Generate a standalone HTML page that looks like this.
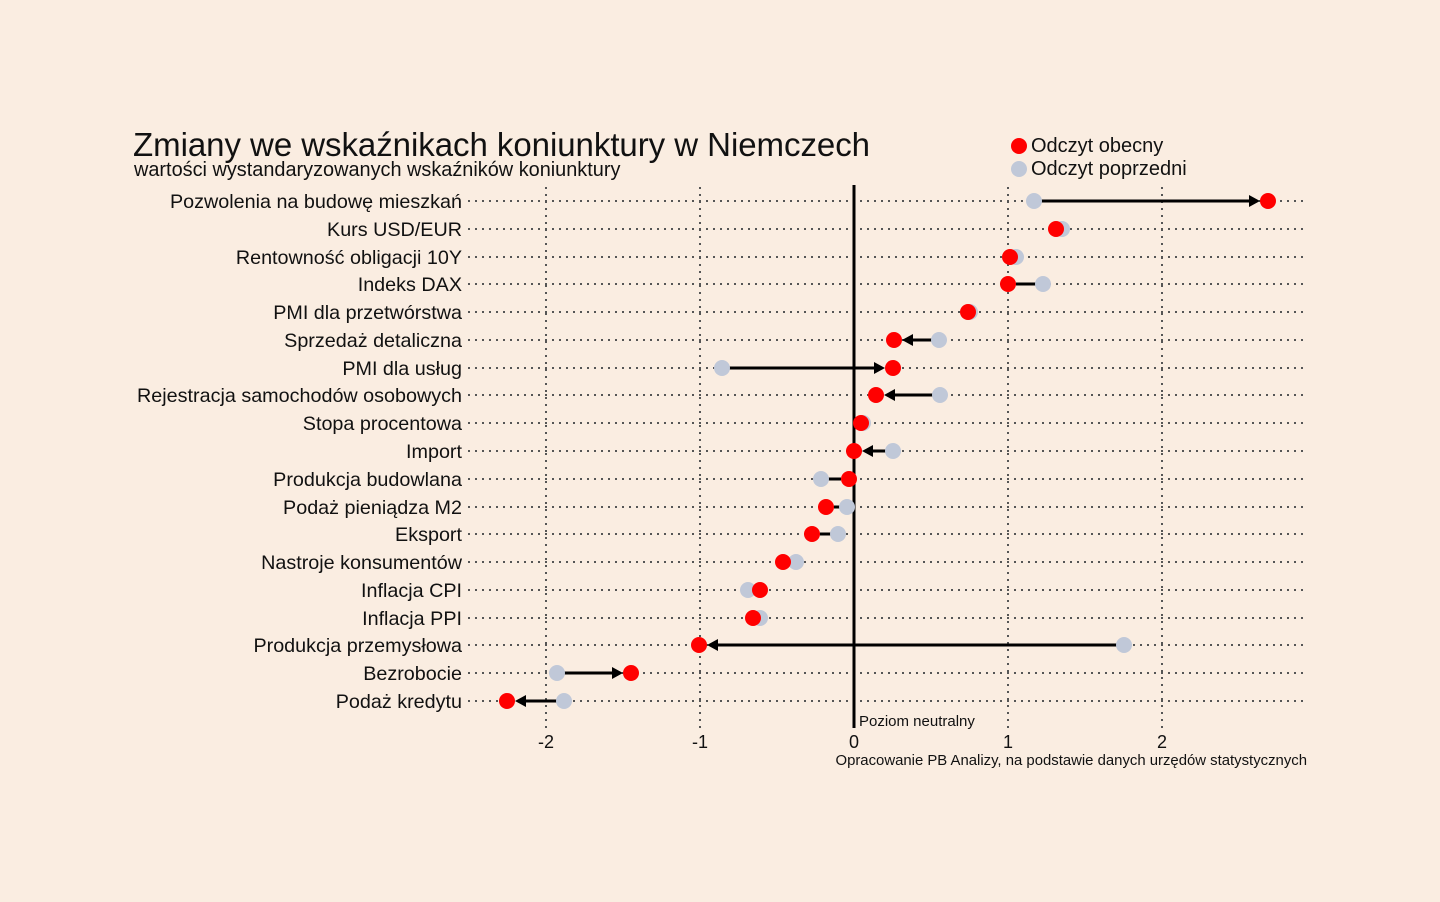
<!DOCTYPE html>
<html><head><meta charset="utf-8"><style>
html,body{margin:0;padding:0;background:#faede1;}
svg{display:block;font-family:"Liberation Sans",sans-serif;}
</style></head><body>
<svg width="1440" height="902" viewBox="0 0 1440 902" xmlns="http://www.w3.org/2000/svg">
<rect width="1440" height="902" fill="#faede1"/>
<text x="133" y="156" font-size="33" fill="#111" textLength="737">Zmiany we wskaźnikach koniunktury w Niemczech</text>
<text x="134" y="176" font-size="19.9" fill="#111">wartości wystandaryzowanych wskaźników koniunktury</text>
<circle cx="1019" cy="146" r="8" fill="#f00"/>
<text x="1031" y="152" font-size="20" fill="#111">Odczyt obecny</text>
<circle cx="1019" cy="169" r="8" fill="#c0c8d8"/>
<text x="1031" y="175" font-size="20" fill="#111">Odczyt poprzedni</text>
<g stroke="#555" stroke-width="2" stroke-dasharray="2,5">
<line x1="546" y1="187" x2="546" y2="728"/>
<line x1="700" y1="187" x2="700" y2="728"/>
<line x1="1008" y1="187" x2="1008" y2="728"/>
<line x1="1162" y1="187" x2="1162" y2="728"/>
</g>
<g stroke="#555" stroke-width="2" stroke-dasharray="2,5" id="h"></g>
<line x1="854" y1="185" x2="854" y2="728" stroke="#000" stroke-width="3"/>
<text x="859" y="726" font-size="15" fill="#111">Poziom neutralny</text>
<g font-size="18" fill="#111" text-anchor="middle">
<text x="546" y="748">-2</text><text x="700" y="748">-1</text><text x="854" y="748">0</text><text x="1008" y="748">1</text><text x="1162" y="748">2</text>
</g>
<text x="1307" y="765" font-size="14.9" fill="#111" text-anchor="end">Opracowanie PB Analizy, na podstawie danych urzędów statystycznych</text>
<g id="rows" font-size="19.75" fill="#111"></g>
<script>
var rows=[
["Pozwolenia na budowę mieszkań",201,1034,1268,1],
["Kurs USD/EUR",229,1062,1056,0],
["Rentowność obligacji 10Y",257,1016,1010,0],
["Indeks DAX",284,1043,1008,2],
["PMI dla przetwórstwa",312,970,968,0],
["Sprzedaż detaliczna",340,939,894,1],
["PMI dla usług",368,722,893,1],
["Rejestracja samochodów osobowych",395,940,876,1],
["Stopa procentowa",423,863,861,0],
["Import",451,893,854,1],
["Produkcja budowlana",479,821,849,2],
["Podaż pieniądza M2",507,847,826,2],
["Eksport",534,838,812,2],
["Nastroje konsumentów",562,796,783,0],
["Inflacja CPI",590,748,760,0],
["Inflacja PPI",618,760,753,0],
["Produkcja przemysłowa",645,1124,699,1],
["Bezrobocie",673,557,631,1],
["Podaż kredytu",701,564,507,1]];
var ns="http://www.w3.org/2000/svg",h=document.getElementById("h"),g=document.getElementById("rows");
function el(p,t,a,txt){var e=document.createElementNS(ns,t);for(var k in a)e.setAttribute(k,a[k]);if(txt)e.textContent=txt;p.appendChild(e);return e;}
rows.forEach(function(r){
 var y=r[1];
 el(h,"line",{x1:468,y1:y,x2:1305,y2:y});
 el(g,"text",{x:462,y:y+7,"text-anchor":"end"},r[0]);
 var p=r[2],c=r[3],d=c>p?1:-1;
 if(r[4]){
  var tip=c-d*8;
  el(g,"line",{x1:p,y1:y,x2:r[4]==1?tip-d*8:tip,y2:y,stroke:"#000","stroke-width":3});
  if(r[4]==1) el(g,"polygon",{points:tip+","+y+" "+(tip-d*11)+","+(y-6)+" "+(tip-d*11)+","+(y+6),fill:"#000"});
 }
 el(g,"circle",{cx:p,cy:y,r:8,fill:"#c0c8d8"});
 el(g,"circle",{cx:c,cy:y,r:8,fill:"#f00"});
});
</script>
</svg>
</body></html>
